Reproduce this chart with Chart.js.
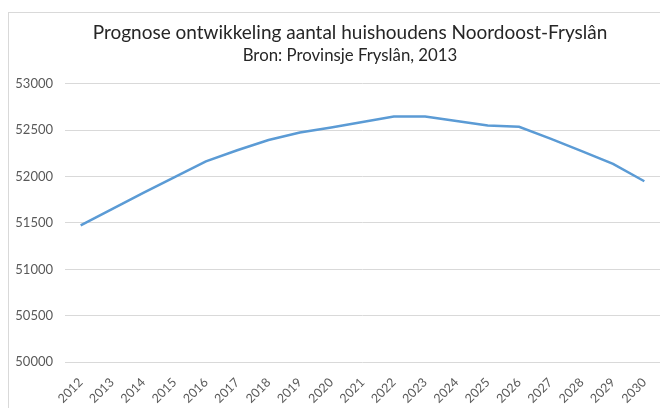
<!DOCTYPE html>
<html>
<head>
<meta charset="utf-8">
<script src="https://cdn.jsdelivr.net/npm/chart.js@4/dist/chart.umd.min.js"></script>
<style>
  html, body { margin: 0; padding: 0; background: #fff; overflow: hidden; width: 660px; height: 408px; }
  #wrap { position: absolute; left: 8px; top: 12px; width: 682px; height: 410px; border: 1px solid #d9d9d9; }
</style>
</head>
<body>
<div id="wrap"><canvas id="chart" width="682" height="410"></canvas></div>
<script>
"use strict";

// Prognose huishoudens Noordoost-Fryslân
const years = ["2012", "2013", "2014", "2015", "2016", "2017", "2018", "2019", "2020", "2021",
  "2022", "2023", "2024", "2025", "2026", "2027", "2028", "2029", "2030"];
const households = [51475, 51650, 51825, 51995, 52165, 52285, 52395, 52477, 52530, 52590,
  52650, 52648, 52600, 52552, 52538, 52410, 52275, 52137, 51950];

const titleText = "Prognose ontwikkeling aantal huishoudens Noordoost-Fryslân";
const subtitleText = "Bron: Provinsje Fryslân, 2013";

const FONT = "Lato, 'Open Sans', sans-serif";

new Chart(document.getElementById("chart"), {
  type: "line",
  data: {
    labels: years,
    datasets: [
      { label: "Huishoudens", data: households, borderColor: "#5b9bd5", borderWidth: 2.5, pointRadius: 0, tension: 0, fill: false },
    ],
  },
  options: {
    responsive: false,
    animation: false,
    layout: { padding: 0 },
    scales: {
      x: {
        offset: true,
        grid: { display: false },
        border: { display: false },
        ticks: { color: "#595959", font: { family: FONT, size: 12.5 }, minRotation: 45, maxRotation: 45, autoSkip: false, padding: 5 },
        afterFit: (s) => { s.height = 61; },
      },
      y: {
        min: 50000,
        max: 53000,
        ticks: { stepSize: 500, color: "#595959", font: { family: FONT, size: 13 }, padding: 12, callback: (v) => String(v) },
        grid: { color: "#d9d9d9", drawTicks: false },
        border: { display: false },
        afterFit: (s) => { s.width = 56; },
      },
      // empty right margin so the title stays centred on the full chart
      pad: {
        position: "right",
        min: 0,
        max: 1,
        grid: { display: false },
        border: { display: false },
        ticks: { display: false },
        afterFit: (s) => { s.width = 31; },
      },
    },
    plugins: {
      legend: { display: false },
      tooltip: { enabled: false },
      title: { display: true, text: titleText, color: "#262626", font: { family: FONT, size: 19, weight: "normal" }, padding: { top: 8, bottom: 2 } },
      subtitle: { display: true, text: subtitleText, color: "#262626", font: { family: FONT, size: 16.8, weight: "normal" }, padding: { top: 0, bottom: 18 } },
    },
  },
});
</script>
</body>
</html>
